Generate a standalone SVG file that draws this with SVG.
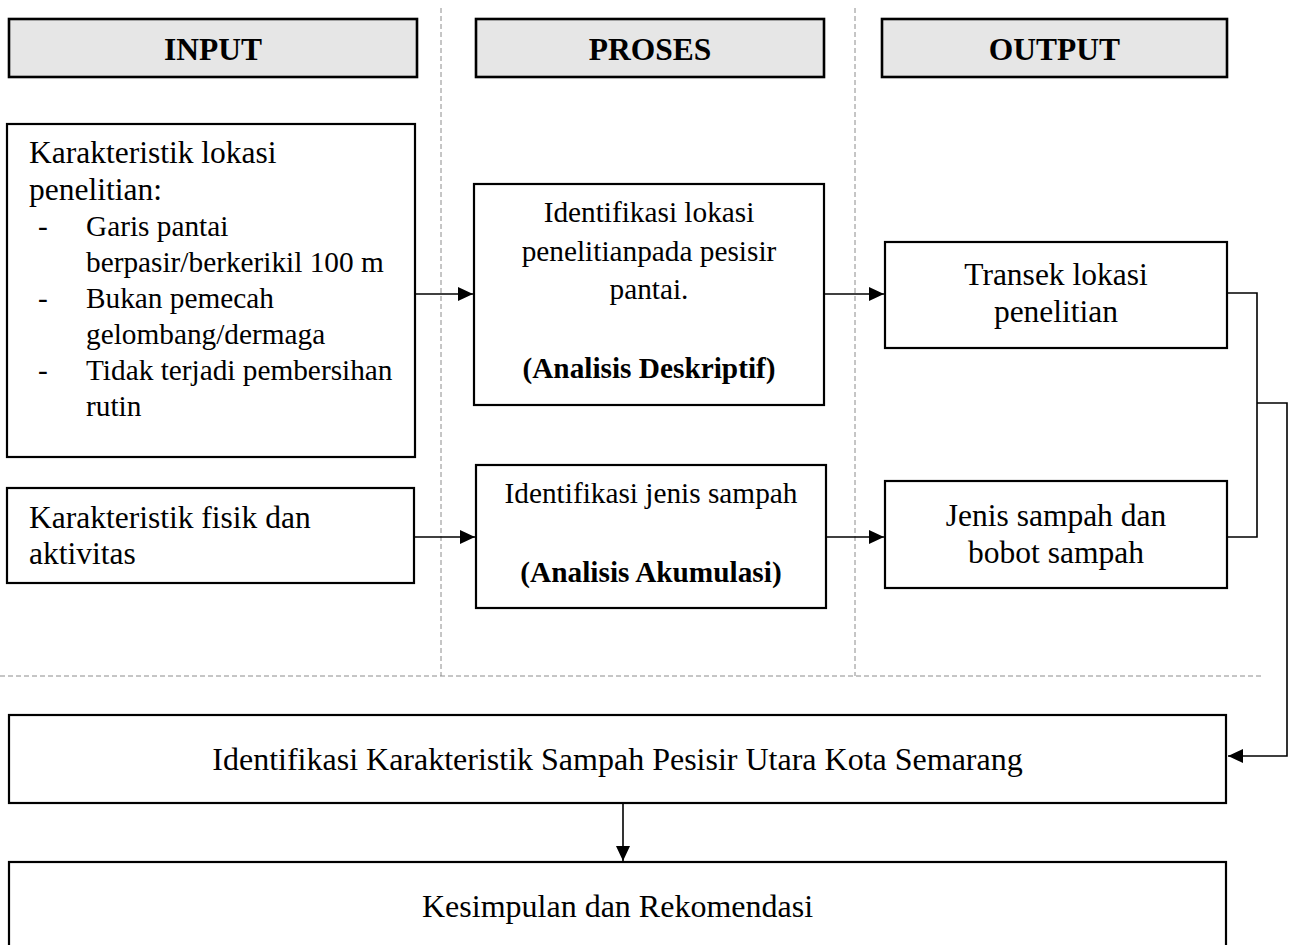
<svg xmlns="http://www.w3.org/2000/svg" width="1289" height="945" viewBox="0 0 1289 945">
<style>
text{font-family:"Liberation Serif","Times New Roman",serif;font-size:31.5px;fill:#000}
.s{font-size:29.3px}
.b{font-weight:bold}
.c{text-anchor:middle}
.box{fill:#fff;stroke:#000;stroke-width:2.2}
.hdr{fill:#e6e6e6;stroke:#000;stroke-width:2.6}
.dash{stroke:#8c8c8c;stroke-width:1;stroke-dasharray:5 3;fill:none}
.con{stroke:#000;stroke-width:1.6;fill:none}
</style>
<defs>
<marker id="ah" markerUnits="userSpaceOnUse" markerWidth="16" markerHeight="16" viewBox="0 0 16 16" refX="15" refY="8" orient="auto">
<polygon points="0,1 15,8 0,15" fill="#000"/>
</marker>
</defs>
<rect width="1289" height="945" fill="#fff"/>
<g id="guides">
<line class="dash" x1="441" y1="8" x2="441" y2="676"/>
<line class="dash" x1="855" y1="8" x2="855" y2="676"/>
<line class="dash" x1="0" y1="676" x2="1263" y2="676"/>
</g>
<g id="hdr-input"><rect class="hdr" x="9" y="19" width="408" height="58"/><text class="b c" x="213" y="60">INPUT</text></g>
<g id="hdr-proses"><rect class="hdr" x="476" y="19" width="348" height="58"/><text class="b c" x="650" y="60">PROSES</text></g>
<g id="hdr-output"><rect class="hdr" x="882" y="19" width="345" height="58"/><text class="b c" x="1054.5" y="60">OUTPUT</text></g>
<g id="input1">
<rect class="box" x="7" y="124" width="408" height="333"/>
<text x="29" y="163">Karakteristik lokasi</text>
<text x="29" y="200">penelitian:</text>
<text class="s" x="38" y="236">-</text><text class="s" x="86" y="236">Garis pantai</text>
<text class="s" x="86" y="272">berpasir/berkerikil 100 m</text>
<text class="s" x="38" y="308">-</text><text class="s" x="86" y="308">Bukan pemecah</text>
<text class="s" x="86" y="344">gelombang/dermaga</text>
<text class="s" x="38" y="380">-</text><text class="s" x="86" y="380">Tidak terjadi pembersihan</text>
<text class="s" x="86" y="416">rutin</text>
</g>
<g id="input2">
<rect class="box" x="7" y="488" width="407" height="95"/>
<text x="29" y="528">Karakteristik fisik dan</text>
<text x="29" y="564">aktivitas</text>
</g>
<g id="proses1">
<rect class="box" x="474" y="184" width="350" height="221"/>
<text class="c s" x="649" y="222">Identifikasi lokasi</text>
<text class="c s" x="649" y="261">penelitianpada pesisir</text>
<text class="c s" x="649" y="299">pantai.</text>
<text class="c b s" x="649" y="378">(Analisis Deskriptif)</text>
</g>
<g id="proses2">
<rect class="box" x="476" y="465" width="350" height="143"/>
<text class="c s" x="651" y="503">Identifikasi jenis sampah</text>
<text class="c b s" x="651" y="582">(Analisis Akumulasi)</text>
</g>
<g id="output1">
<rect class="box" x="885" y="242" width="342" height="106"/>
<text class="c" x="1056" y="285">Transek lokasi</text>
<text class="c" x="1056" y="322">penelitian</text>
</g>
<g id="output2">
<rect class="box" x="885" y="481" width="342" height="107"/>
<text class="c" x="1056" y="526">Jenis sampah dan</text>
<text class="c" x="1056" y="563">bobot sampah</text>
</g>
<g id="identifikasi">
<rect class="box" x="9" y="715" width="1217" height="88"/>
<text class="c" x="617.5" y="770" style="font-size:32px">Identifikasi Karakteristik Sampah Pesisir Utara Kota Semarang</text>
</g>
<g id="kesimpulan">
<rect class="box" x="9" y="862" width="1217" height="90"/>
<text class="c" x="617.5" y="917" style="font-size:32px">Kesimpulan dan Rekomendasi</text>
</g>
<g id="connectors">
<line class="con" x1="415" y1="294" x2="473" y2="294" marker-end="url(#ah)"/>
<line class="con" x1="824" y1="294" x2="884" y2="294" marker-end="url(#ah)"/>
<line class="con" x1="414" y1="537" x2="475" y2="537" marker-end="url(#ah)"/>
<line class="con" x1="826" y1="537" x2="884" y2="537" marker-end="url(#ah)"/>
<polyline class="con" points="1227,293 1257,293 1257,537 1227,537"/>
<polyline class="con" points="1257,403 1287,403 1287,756 1228,756" marker-end="url(#ah)"/>
<line class="con" x1="623" y1="803" x2="623" y2="861" marker-end="url(#ah)"/>
</g>
</svg>
